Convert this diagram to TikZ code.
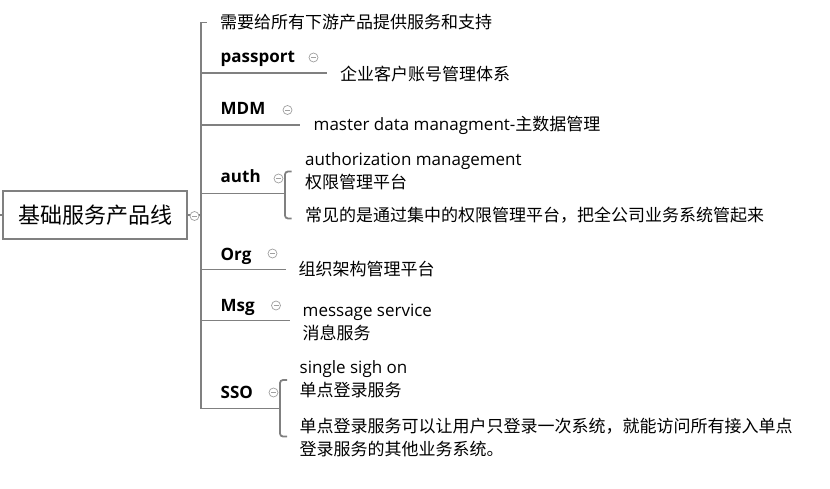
\documentclass[tikz,border=0pt]{standalone}
\usepackage{fontspec}
\setmainfont{Open Sans}
\newfontfamily\cjk{Noto Sans CJK SC}
\usepackage{xcolor}
\definecolor{linegray}{HTML}{808080}
\definecolor{foldgray}{HTML}{A0A0A0}

\tikzset{
  branch/.style={draw=linegray, line width=1.8pt},
  rootbox/.style={draw=linegray, line width=1.8pt, minimum width=184pt, minimum height=48pt,
    inner sep=0pt, font=\fontsize{22}{26}\selectfont\cjk},
  topic/.style={anchor=base west, inner sep=0pt, font=\fontsize{17}{23}\selectfont\bfseries},
  leaf/.style={anchor=base west, inner sep=0pt, align=left, font=\fontsize{17}{23}\selectfont},
  zh/.style={leaf, font=\fontsize{17}{23}\selectfont\cjk},
  fold/.style={circle, draw=foldgray, fill=white, line width=0.7pt, minimum size=9pt, inner sep=0pt,
    path picture={\draw[foldgray, line width=0.7pt]
      ([xshift=-2.5pt]path picture bounding box.center) -- ([xshift=2.5pt]path picture bounding box.center);}}
}

\begin{document}
\begin{tikzpicture}[x=1pt, y=-1pt]

  % bounding box
  \useasboundingbox (0,0) rectangle (830,489);

  % root box
  \node[rootbox] (root) at (95,215) {基础服务产品线};
  \coordinate (stub) at (0,215);
  \coordinate (hub) at (201,215);

  % topics
  \node[zh] (need) at (220,29) {需要给所有下游产品提供服务和支持};
  \node[topic] (passport) at (220.5,63) {passport};
  \node[topic] (mdm) at (220.5,115) {MDM};
  \node[topic] (auth) at (220.5,183) {auth};
  \node[topic] (org) at (220.5,260) {Org};
  \node[topic] (msg) at (220.5,311) {Msg};
  \node[topic] (sso) at (220.5,398) {SSO};

  % details (multi-line nodes sit on their last baseline)
  \node[zh] (passport-1) at (340,81) {企业客户账号管理体系};
  \node[leaf] (mdm-1) at (313.5,131) {master data managment-{\cjk 主数据管理}};
  \node[leaf] (auth-1) at (305,189) {authorization management\\{\cjk 权限管理平台}};
  \node[zh] (auth-2) at (305,222) {常见的是通过集中的权限管理平台，把全公司业务系统管起来};
  \node[zh] (org-1) at (298.5,275) {组织架构管理平台};
  \node[leaf] (msg-1) at (302.5,339) {message service\\{\cjk 消息服务}};
  \node[leaf] (sso-1) at (299.5,396) {single sigh on\\{\cjk 单点登录服务}};
  \node[zh] (sso-2) at (299.5,455) {单点登录服务可以让用户只登录一次系统，就能访问所有接入单点\\登录服务的其他业务系统。};

  % line ends
  \coordinate (need-end) at (207,22.5);
  \coordinate (passport-end) at (327,73);
  \coordinate (mdm-end) at (300,125);
  \coordinate (auth-end) at (285,193.5);
  \coordinate (auth-top) at (291.5,171.5);
  \coordinate (auth-bot) at (291.5,218.5);
  \coordinate (org-end) at (286,269.5);
  \coordinate (msg-end) at (290,320.5);
  \coordinate (sso-end) at (280,408.5);
  \coordinate (sso-top) at (287,380);
  \coordinate (sso-bot) at (287,436.5);

  % connectors
  \draw[branch] (root.west) -- (stub);
  \draw[branch] (root.east) -- (hub);
  \draw[branch] (hub) |- (need-end);
  \draw[branch] (hub) |- (passport-end);
  \draw[branch] (hub) |- (mdm-end);
  \draw[branch] (hub) |- (auth-end);
  \draw[branch] (hub) |- (org-end);
  \draw[branch] (hub) |- (msg-end);
  \draw[branch] (hub) |- (sso-end);

  % brackets
  \draw[branch, rounded corners=3pt] (auth-top) -| (auth-end) |- (auth-bot);
  \draw[branch, rounded corners=3pt] (sso-top) -| (sso-end) |- (sso-bot);

  % fold markers
  \node[fold] (root-fold) at (194.5,216) {};
  \node[fold] (passport-fold) at (313.5,57.5) {};
  \node[fold] (mdm-fold) at (287.5,110) {};
  \node[fold] (auth-fold) at (278.5,178.5) {};
  \node[fold] (org-fold) at (272.5,253.5) {};
  \node[fold] (msg-fold) at (276,305.5) {};
  \node[fold] (sso-fold) at (273.5,392.5) {};

\end{tikzpicture}
\end{document}
